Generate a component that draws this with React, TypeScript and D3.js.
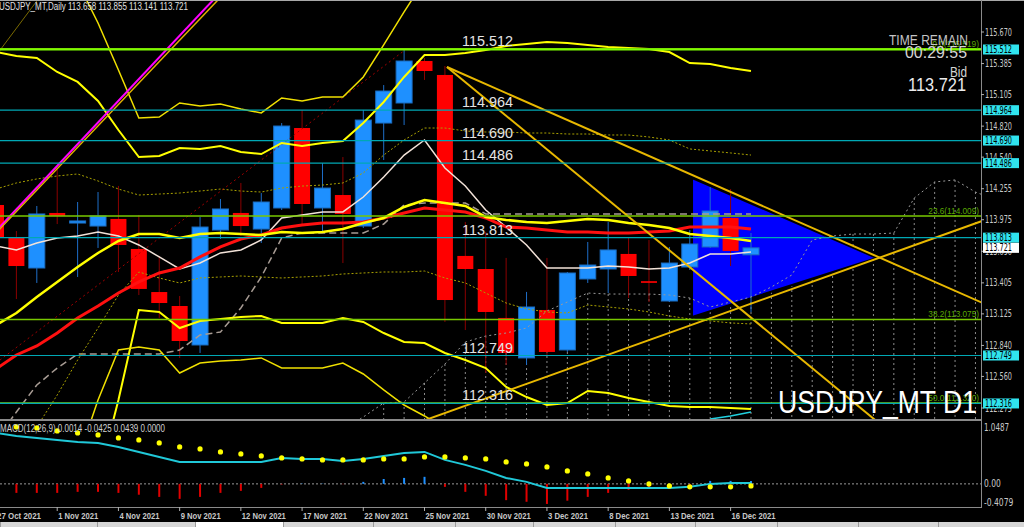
import * as d3 from "d3";

// ---- data ----
const dates = [
  "27 Oct 2021", "28 Oct 2021", "29 Oct 2021", "1 Nov 2021", "2 Nov 2021", "3 Nov 2021", "4 Nov 2021",
  "5 Nov 2021", "8 Nov 2021", "9 Nov 2021", "10 Nov 2021", "11 Nov 2021", "12 Nov 2021", "15 Nov 2021",
  "16 Nov 2021", "17 Nov 2021", "18 Nov 2021", "19 Nov 2021", "22 Nov 2021", "23 Nov 2021", "24 Nov 2021",
  "25 Nov 2021", "26 Nov 2021", "29 Nov 2021", "30 Nov 2021", "1 Dec 2021", "2 Dec 2021", "3 Dec 2021",
  "6 Dec 2021", "7 Dec 2021", "8 Dec 2021", "9 Dec 2021", "10 Dec 2021", "13 Dec 2021", "14 Dec 2021",
  "15 Dec 2021", "16 Dec 2021", "17 Dec 2021",
];

const open = [114.108, 113.81, 113.539, 114.036, 113.945, 113.918, 113.982, 113.711, 113.322, 113.196, 112.844, 113.882, 114.036, 113.891, 114.081, 114.803, 114.081, 114.198, 113.918, 114.848, 115.029, 115.408, 115.282, 113.648, 113.53, 113.088, 112.727, 113.16, 112.799, 113.44, 113.53, 113.666, 113.42, 113.241, 113.548, 113.729, 113.991, 113.658];
const high = [114.153, 113.873, 114.099, 114.442, 114.135, 114.225, 114.28, 114.018, 113.648, 113.286, 114.0, 114.162, 114.307, 114.216, 114.848, 114.966, 114.487, 114.541, 114.966, 115.191, 115.512, 115.435, 115.363, 113.955, 113.864, 113.63, 113.323, 113.63, 113.503, 113.774, 113.955, 113.81, 113.792, 113.729, 113.882, 114.27, 114.252, 113.855];
const low = [113.747, 113.259, 113.404, 113.936, 113.458, 113.72, 113.503, 113.295, 113.088, 112.727, 112.772, 113.801, 113.828, 113.765, 114.063, 113.927, 113.864, 113.584, 113.9, 114.514, 114.83, 115.237, 113.052, 112.979, 112.591, 112.663, 112.663, 112.754, 112.781, 113.404, 113.313, 113.268, 113.232, 113.232, 113.521, 113.72, 113.557, 113.141];
const close = [113.819, 113.557, 114.027, 114.009, 113.964, 114.009, 113.747, 113.35, 113.223, 112.88, 113.909, 114.072, 113.918, 114.135, 114.821, 114.117, 114.261, 114.027, 114.875, 115.137, 115.408, 115.318, 113.25, 113.53, 113.142, 112.772, 113.187, 112.781, 113.494, 113.566, 113.702, 113.467, 113.405, 113.584, 113.756, 114.054, 113.693, 113.721];

const bandUpperOuter = [116.5, 116.455, 116.41, 116.32, 116.121, 115.751, 115.327, 114.893, 114.902, 115.029, 115.002, 115.02, 114.975, 114.939, 115.074, 115.047, 115.083, 115.083, 115.264, 115.553, 115.851, 116.139, 116.275, 116.32, 116.32, 116.3, 116.28, 116.26, 116.25, 116.24, 116.23, 116.22, 116.21, 116.2, 116.19, 116.18, 116.17, 116.16];
const bandUpper = [115.489, 115.453, 115.435, 115.309, 115.219, 115.047, 114.785, 114.541, 114.55, 114.623, 114.614, 114.641, 114.587, 114.568, 114.668, 114.641, 114.668, 114.686, 114.848, 115.038, 115.264, 115.462, 115.462, 115.48, 115.507, 115.544, 115.562, 115.58, 115.571, 115.553, 115.535, 115.526, 115.517, 115.489, 115.39, 115.381, 115.345, 115.318];
const maYellow = [113.024, 113.133, 113.277, 113.413, 113.548, 113.675, 113.783, 113.846, 113.846, 113.81, 113.846, 113.855, 113.846, 113.837, 113.864, 113.855, 113.864, 113.891, 113.946, 113.991, 114.09, 114.153, 114.126, 114.099, 114.0, 113.973, 113.955, 113.946, 113.964, 113.982, 113.973, 113.946, 113.928, 113.9, 113.846, 113.828, 113.81, 113.783];
const maRed = [112.627, 112.754, 112.835, 112.952, 113.088, 113.196, 113.313, 113.413, 113.494, 113.539, 113.639, 113.729, 113.801, 113.837, 113.9, 113.927, 113.946, 113.946, 113.955, 113.991, 114.036, 114.081, 114.063, 114.045, 113.991, 113.909, 113.9, 113.882, 113.864, 113.864, 113.855, 113.855, 113.864, 113.873, 113.909, 113.909, 113.909, 113.891];
const maWhite = [113.738, 113.702, 113.765, 113.81, 113.828, 113.864, 113.828, 113.747, 113.639, 113.53, 113.584, 113.675, 113.702, 113.792, 113.991, 114.018, 114.045, 114.045, 114.18, 114.361, 114.559, 114.695, 114.442, 114.28, 114.063, 113.909, 113.747, 113.539, 113.539, 113.539, 113.557, 113.548, 113.53, 113.539, 113.584, 113.666, 113.666, 113.684];
const envUpper = [114.252, 114.307, 114.343, 114.37, 114.388, 114.325, 114.252, 114.198, 114.207, 114.216, 114.234, 114.252, 114.234, 114.225, 114.261, 114.279, 114.288, 114.307, 114.397, 114.559, 114.695, 114.803, 114.803, 114.776, 114.767, 114.767, 114.758, 114.758, 114.749, 114.749, 114.74, 114.74, 114.722, 114.695, 114.614, 114.596, 114.578, 114.559];
const envLower = [111.535, 111.806, 112.104, 112.392, 112.708, 112.997, 113.295, 113.503, 113.449, 113.404, 113.449, 113.458, 113.467, 113.458, 113.449, 113.458, 113.467, 113.485, 113.494, 113.503, 113.503, 113.512, 113.449, 113.404, 113.313, 113.223, 113.169, 113.142, 113.133, 113.205, 113.187, 113.169, 113.142, 113.106, 113.079, 113.061, 113.043, 113.034];
const bandLower = [110.361, 110.542, 110.722, 110.903, 111.173, 111.625, 112.347, 113.16, 113.142, 112.997, 113.061, 113.079, 113.097, 113.106, 113.043, 113.043, 113.043, 113.088, 113.052, 112.952, 112.871, 112.862, 112.772, 112.708, 112.636, 112.465, 112.374, 112.302, 112.32, 112.429, 112.41, 112.365, 112.329, 112.293, 112.284, 112.284, 112.275, 112.266];
const bandLowerOuter = [110.542, 110.903, 111.173, 111.444, 111.806, 112.347, 112.799, 112.826, 112.799, 112.591, 112.681, 112.699, 112.708, 112.727, 112.636, 112.636, 112.636, 112.681, 112.582, 112.438, 112.302, 112.203, 112.094, 111.986, 111.851, 111.715, 111.625, 111.625, 111.625, 111.715, 111.715, 111.67, 111.64, 111.625, 111.6, 111.59, 111.58, 111.57];
const kijun = [111.986, 112.239, 112.483, 112.636, 112.763, 112.763, 112.763, 112.763, 112.763, 112.799, 112.934, 112.961, 113.178, 113.458, 113.81, 113.855, 113.855, 113.855, 113.855, 113.936, 114.108, 114.126, 114.126, 114.126, 114.027, 114.027, 114.027, 114.027, 114.027, 114.027, 114.027, 114.027, 114.027, 114.027, 114.027, 114.027, 114.027, 114.027];
const spanStart = 17;
const spanA = [112.076, 112.194, 112.32, 112.329, 112.501, 112.672, 112.871, 112.925, 112.952, 112.997, 113.151, 113.232, 113.313, 113.304, 113.304, 113.304, 113.295, 113.268, 113.187, 113.232, 113.277, 113.368, 113.476, 113.792, 113.828, 113.846, 113.846, 113.855, 114.171, 114.316, 114.334, 114.225, 114.153];
const cyanStart = 35;
const cyanTail = [112.176, 112.203, 112.239];

// trend lines: [bar index, price] pairs
const magentaLine = [[-0.784, 113.72], [11.47, 116.121]];
const orangeLine = [[-0.784, 113.704], [11.71, 116.12]];
const oliveLine = [[-0.784, 115.264], [2.4, 116.049]];
const redDotLine = [[-0.784, 112.57], [20.04, 115.507]];
const goldLines = [
  [[22.1, 115.354], [48.47, 113.214]],
  [[22.1, 115.354], [43.32, 112.131]],
  [[20.78, 112.149], [48.47, 113.973]],
];
const triangle = [[34.11, 114.352], [34.11, 113.097], [43.17, 113.629]];

const levels = [115.512, 114.964, 114.69, 114.486, 113.813, 112.749, 112.316];
const fibNames = ["0.0", "23.6", "38.2", "50.0"];
const fibValues = [115.519, 114.009, 113.075, 112.32];
const priceTicks = [115.67, 115.385, 115.105, 114.82, 114.54, 114.255, 113.975, 113.69, 113.405, 113.125, 112.84, 112.56, 112.275];
const bid = 113.721;

const macdMain = [0.939, 0.884, 0.847, 0.81, 0.773, 0.755, 0.681, 0.589, 0.497, 0.405, 0.405, 0.405, 0.405, 0.405, 0.479, 0.46, 0.46, 0.424, 0.46, 0.516, 0.571, 0.589, 0.442, 0.35, 0.239, 0.11, 0.037, -0.074, -0.074, -0.074, -0.074, -0.074, -0.074, -0.074, -0.055, 0.0, 0.018, 0.018];
const macdSignal = [1.07, 1.05, 1.031, 0.976, 0.939, 0.902, 0.847, 0.81, 0.755, 0.681, 0.645, 0.589, 0.552, 0.516, 0.479, 0.46, 0.442, 0.442, 0.442, 0.46, 0.46, 0.497, 0.497, 0.479, 0.46, 0.405, 0.368, 0.313, 0.239, 0.184, 0.11, 0.055, 0.0, -0.037, -0.055, -0.055, -0.055, -0.037];
const macdHist = [-0.166, -0.166, -0.166, -0.166, -0.147, -0.147, -0.166, -0.2, -0.24, -0.276, -0.24, -0.166, -0.129, -0.074, -0.01, 0.005, 0.005, -0.005, 0.037, 0.09, 0.11, 0.13, -0.055, -0.147, -0.22, -0.3, -0.33, -0.37, -0.31, -0.24, -0.166, -0.11, -0.074, -0.037, -0.02, 0.055, 0.055, 0.055];
const macdTicks = [1.0487, 0.0, -0.4079];
const macdTickText = ["1.0487", "0.00", "-0.4079"];

// ---- layout ----
const W = 1024;
const H = 527;
const plotR = 981;
const mainB = 420;
const macdT = 422;
const macdB = 507;

const narrow = "'Liberation Sans Narrow','DejaVu Sans Condensed','Liberation Sans',sans-serif";
const sans = "'Liberation Sans',Arial,sans-serif";

export default function App() {
  const x = d3.scaleLinear().domain([0, 37]).range([-4, 751]);
  const y = d3.scaleLinear().domain([112.275, 115.67]).range([408, 32]);
  const ym = d3.scaleLinear().domain([-0.4079, 1.0487]).range([506, 427]);

  const series = (vals: number[], start = 0) =>
    d3.line<number>().x((_, i) => x(i + start)).y((d) => y(d))(vals) || undefined;
  const seg = (pts: number[][]) =>
    d3.line<number[]>().x((p) => x(p[0])).y((p) => y(p[1]))(pts) || undefined;

  const tabs = [0, 97, 195, 283, 373, 455, 533, 615, 695, 777, 858, 938];

  return (
    <svg width={W} height={H} style={{ position: "fixed", left: 0, top: 0, display: "block", background: "#000" }}>
      <defs>
        <clipPath id="mainClip"><rect x={0} y={1} width={plotR} height={mainB - 1} /></clipPath>
        <clipPath id="macdClip"><rect x={0} y={macdT} width={plotR} height={macdB - macdT} /></clipPath>
      </defs>
      <rect width={W} height={H} fill="#000" />

      <g clipPath="url(#mainClip)">
        {/* hatch of the cloud */}
        <g stroke="#8c8c8c" strokeWidth={1} strokeDasharray="2,3">
          {spanA.map((v, i) =>
            i + spanStart >= 19 ? <line key={i} x1={x(i + spanStart)} x2={x(i + spanStart)} y1={y(v)} y2={mainB} /> : null
          )}
        </g>
        {/* triangle */}
        <path d={seg([...triangle, triangle[0]])} fill="#0000ff" stroke="#000" strokeWidth={2} />

        {/* candles */}
        {open.map((o, i) => {
          const c = close[i];
          const up = c >= o;
          const top = y(Math.max(o, c));
          const h = Math.max(1, y(Math.min(o, c)) - top);
          return (
            <g key={i}>
              <line x1={x(i)} x2={x(i)} y1={y(high[i])} y2={y(low[i])} stroke={up ? "#1e6ec8" : "#8b0000"} strokeWidth={1} />
              <rect x={x(i) - 8} y={top} width={16} height={h} fill={up ? "#1e90ff" : "#ff0000"} stroke={up ? "#1a6cc0" : "none"} strokeWidth={1} />
            </g>
          );
        })}

        {/* indicators */}
        <path d={series(spanA, spanStart)} fill="none" stroke="#9a9a9a" strokeWidth={1} strokeDasharray="2,3" />
        <path d={series(kijun)} fill="none" stroke="#a89c94" strokeWidth={1.5} strokeDasharray="7,4" />
        <path d={series(envUpper)} fill="none" stroke="#a8a000" strokeWidth={1} strokeDasharray="2,2" />
        <path d={series(envLower)} fill="none" stroke="#a8a000" strokeWidth={1} strokeDasharray="2,2" />
        <path d={seg(redDotLine)} fill="none" stroke="#a00000" strokeWidth={1} strokeDasharray="2,3" />
        <path d={series(maWhite)} fill="none" stroke="#f2e2d8" strokeWidth={1.5} />
        <path d={series(maRed)} fill="none" stroke="#ff1010" strokeWidth={3} />
        <path d={series(maYellow)} fill="none" stroke="#ffff00" strokeWidth={2.5} />
        <path d={series(bandUpper)} fill="none" stroke="#ffff00" strokeWidth={2} />
        <path d={series(bandUpperOuter)} fill="none" stroke="#f0e000" strokeWidth={1.5} />
        <path d={series(bandLower)} fill="none" stroke="#ffff00" strokeWidth={2} />
        <path d={series(bandLowerOuter)} fill="none" stroke="#f0e000" strokeWidth={1.5} />
        <path d={series(cyanTail, cyanStart)} fill="none" stroke="#20d0e0" strokeWidth={1.5} />

        {/* trend lines */}
        <path d={seg(oliveLine)} fill="none" stroke="#7a6a00" strokeWidth={1} />
        <path d={seg(magentaLine)} fill="none" stroke="#ff00ff" strokeWidth={2} />
        <path d={seg(orangeLine)} fill="none" stroke="#e0b000" strokeWidth={1.5} />
        {goldLines.map((l, i) => (
          <path key={i} d={seg(l)} fill="none" stroke="#e8b800" strokeWidth={2} />
        ))}

        {/* horizontal levels */}
        {fibValues.map((v, i) => (
          <line key={"f" + i} x1={0} x2={plotR} y1={y(v)} y2={y(v)} stroke="#78c800" strokeWidth={1.5} />
        ))}
        {levels.map((v, i) => (
          <line key={"l" + i} x1={0} x2={plotR} y1={y(v)} y2={y(v)}
            stroke={i === 0 ? "#7cfc00" : "#00a8b4"} strokeWidth={i === 0 ? 2 : 1.2} />
        ))}
        {levels.map((v, i) => (
          <text key={"t" + i} x={462} y={y(v) - 3} fill="#e4e4e4" fontFamily={sans} fontSize={14.5} textLength={51} lengthAdjust="spacingAndGlyphs">
            {v.toFixed(3)}
          </text>
        ))}
        {fibValues.map((v, i) => {
          const s = `${fibNames[i]}(${v.toFixed(3)})`;
          return (
            <text key={"ft" + i} x={979} y={y(v) - 2} fill="#5aa800" fontFamily={sans} fontSize={9.5} textAnchor="end" textLength={s.length * 3.9} lengthAdjust="spacingAndGlyphs">
              {s}
            </text>
          );
        })}

        {/* overlay texts */}
        <text x={968} y={45} fill="#c4c4c4" fontFamily={sans} fontSize={15} textAnchor="end" textLength={79} lengthAdjust="spacingAndGlyphs">TIME REMAIN</text>
        <text x={967} y={58} fill="#d4d4d4" fontFamily={sans} fontSize={16} textAnchor="end" textLength={62} lengthAdjust="spacingAndGlyphs">00:29:55</text>
        <text x={967} y={77} fill="#d4d4d4" fontFamily={sans} fontSize={14} textAnchor="end" textLength={17} lengthAdjust="spacingAndGlyphs">Bid</text>
        <text x={966} y={91} fill="#ececec" fontFamily={sans} fontSize={18} textAnchor="end" textLength={58} lengthAdjust="spacingAndGlyphs">{bid.toFixed(3)}</text>
        <text x={977} y={413} fill="#ffffff" fontFamily={sans} fontSize={32} textAnchor="end" textLength={199} lengthAdjust="spacingAndGlyphs">USDJPY_MT D1</text>
      </g>

      <text x={-1} y={10} fill="#e0e0e0" fontFamily={sans} fontSize={10} textLength={189} lengthAdjust="spacingAndGlyphs">
        {`USDJPY_MT,Daily ${open[37].toFixed(3)} ${high[37].toFixed(3)} ${low[37].toFixed(3)} ${close[37].toFixed(3)}`}
      </text>

      {/* MACD panel */}
      <g clipPath="url(#macdClip)">
        <line x1={0} x2={plotR} y1={ym(0)} y2={ym(0)} stroke="#9a9a9a" strokeWidth={1} strokeDasharray="2,2" />
        {macdHist.map((v, i) => (
          <line key={i} x1={x(i)} x2={x(i)} y1={ym(0)} y2={ym(v)} stroke={v >= 0 ? "#1e90ff" : "#e00000"} strokeWidth={2} />
        ))}
        <path d={d3.line<number>().x((_, i) => x(i)).y((d) => ym(d))(macdMain) || undefined} fill="none" stroke="#20c8d8" strokeWidth={2} />
        {macdSignal.map((v, i) => (
          <circle key={i} cx={x(i)} cy={ym(v)} r={2.6} fill="#ffff00" />
        ))}
      </g>
      <text x={0} y={432} fill="#d0d0d0" fontFamily={sans} fontSize={10} textLength={165} lengthAdjust="spacingAndGlyphs">
        MACD(12,26,9) 0.0014 -0.0425 0.0439 0.0000
      </text>

      {/* frame */}
      <line x1={0} x2={W} y1={0.5} y2={0.5} stroke="#a8a8a8" />
      <rect x={0} y={mainB - 1} width={plotR + 1} height={2} fill="#8a8a8a" />
      <line x1={plotR + 0.5} x2={plotR + 0.5} y1={0} y2={macdB} stroke="#8a8a8a" />
      <line x1={0} x2={plotR + 1} y1={macdB + 0.5} y2={macdB + 0.5} stroke="#8a8a8a" />

      {/* price axis */}
      {priceTicks.map((v, i) => (
        <g key={i}>
          <line x1={plotR} x2={plotR + 3} y1={y(v)} y2={y(v)} stroke="#b0b0b0" />
          <text x={985} y={y(v) + 3.5} fill="#c8c8c8" fontFamily={narrow} fontSize={10} textLength={27} lengthAdjust="spacingAndGlyphs">{v.toFixed(3)}</text>
        </g>
      ))}
      {levels.map((v, i) => (
        <g key={i}>
          <rect x={983} y={y(v) - 5} width={36} height={10} fill="#30e4ee" />
          <text x={985} y={y(v) + 3.5} fill="#000" fontFamily={narrow} fontSize={10} textLength={27} lengthAdjust="spacingAndGlyphs">{v.toFixed(3)}</text>
        </g>
      ))}
      <rect x={983} y={y(bid) - 5} width={36} height={10} fill="#ffffff" />
      <text x={985} y={y(bid) + 3.5} fill="#000" fontFamily={narrow} fontSize={10} textLength={27} lengthAdjust="spacingAndGlyphs">{bid.toFixed(3)}</text>

      {macdTicks.map((v, i) => (
        <text key={i} x={984} y={Math.min(ym(v) + 3.5, 506)} fill="#c8c8c8" fontFamily={narrow} fontSize={10}
          textLength={macdTickText[i].length * 4.2} lengthAdjust="spacingAndGlyphs">{macdTickText[i]}</text>
      ))}

      {/* date axis */}
      {dates.map((d, i) =>
        i % 3 === 0 ? (
          <g key={i}>
            <line x1={x(i)} x2={x(i)} y1={macdB} y2={macdB + 4} stroke="#b0b0b0" />
            <text x={x(i) + 1} y={519} fill="#c8c8c8" fontFamily={sans} fontWeight="bold" fontSize={9.5} textLength={d.length * 4} lengthAdjust="spacingAndGlyphs">{d}</text>
          </g>
        ) : null
      )}

      {/* tab strip */}
      <rect x={0} y={522} width={W} height={5} fill="#d6d6d6" />
      <rect x={195} y={522} width={88} height={5} fill="#ffffff" />
      {tabs.map((t, i) => (
        <line key={i} x1={t + 0.5} x2={t + 0.5} y1={522} y2={527} stroke="#9a9a9a" />
      ))}
    </svg>
  );
}
